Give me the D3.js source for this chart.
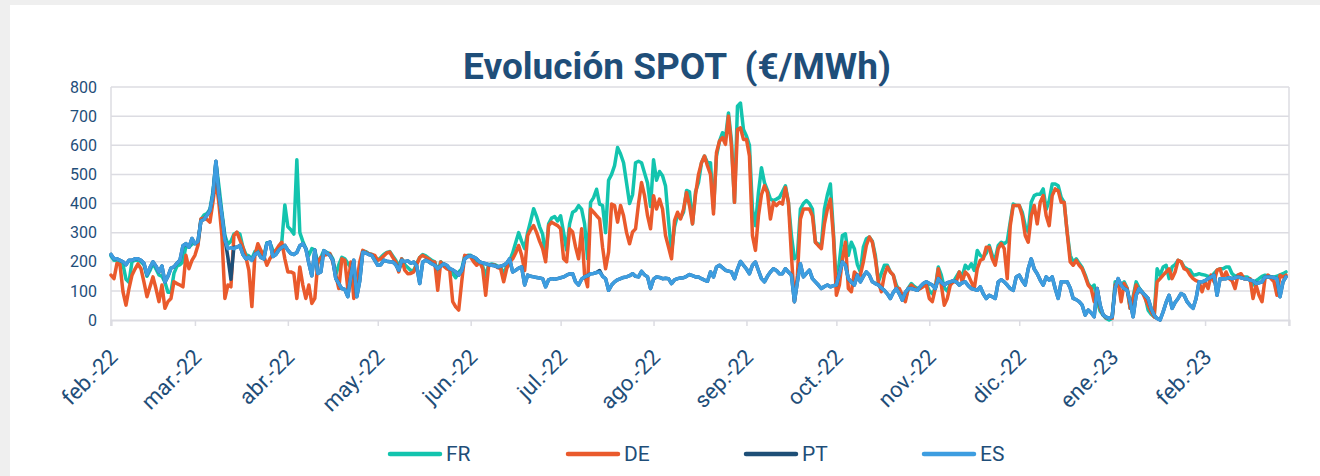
<!DOCTYPE html>
<html>
<head>
<meta charset="utf-8">
<script src="https://cdnjs.cloudflare.com/ajax/libs/d3/7.8.5/d3.min.js"></script>
<style>
  html, body { margin: 0; padding: 0; background: #efefef; }
  svg { display: block; font-family: Roboto, "Noto Sans", sans-serif; }
</style>
</head>
<body>
<svg id="chart" width="1320" height="476"></svg>
<script>
// daily spot prices, 1 feb 2022 .. 28 feb 2023 (€/MWh)
const startDate = new Date(2022, 1, 1);
const endDate = new Date(2023, 2, 1);

const monthLabels = ["feb.-22", "mar.-22", "abr.-22", "may.-22", "jun.-22", "jul.-22", "ago.-22",
    "sep.-22", "oct.-22", "nov.-22", "dic.-22", "ene.-23", "feb.-23"];
const yTicks = [0, 100, 200, 300, 400, 500, 600, 700, 800];

const seriesNames = ["FR", "DE", "PT", "ES"];
const seriesColours = ["#13c4ae", "#ea5a2c", "#1e4f77", "#3d9de0"];

const fr = [
    220,205,205,200,190,140,130,200,205,205,200,190,150,170,195,175,155,150,130,95,95,160,185,190,200,255,250,260,
    265,260,345,360,365,380,440,540,460,370,290,260,270,295,300,295,250,225,220,210,235,240,230,220,265,265,240,230,245,270,395,
    320,310,295,550,300,270,245,222,245,240,195,215,238,232,228,210,155,190,215,210,195,180,150,105,150,238,235,228,225,215,
    205,215,225,232,235,220,205,185,210,190,180,170,170,195,215,225,220,212,205,200,165,200,190,180,175,160,145,165,175,220,222,
    222,210,200,199,185,150,190,192,190,185,180,159,185,205,230,265,300,270,245,300,340,382,355,320,295,215,330,350,355,340,
    358,300,240,330,370,376,393,381,330,210,404,420,449,398,393,300,480,500,530,592,570,540,470,400,430,540,545,540,505,470,390,
    550,480,510,495,460,340,233,320,360,350,370,445,440,330,440,472,540,563,540,540,381,563,614,643,626,711,614,404,734,745,654,
    632,600,381,324,438,523,472,445,415,410,415,421,440,461,404,290,210,222,381,400,410,400,381,267,260,260,381,430,467,302,
    120,200,290,296,222,267,245,190,165,250,279,285,270,222,131,160,188,188,165,154,120,100,85,70,110,125,115,108,112,118,125,
    100,90,110,182,154,110,100,125,131,148,165,150,188,176,193,170,239,222,215,230,256,222,210,256,267,262,270,336,398,393,
    393,370,324,302,404,427,432,432,450,380,410,467,467,461,421,404,300,222,199,210,195,180,155,125,110,120,63,30,17,5,0,
    5,131,125,120,131,110,40,80,131,110,97,80,34,20,11,176,154,182,188,142,182,190,205,200,182,175,171,154,155,159,156,
    154,150,148,160,171,176,176,182,182,159,150,154,150,148,148,140,120,135,142,150,154,152,148,148,150,155,159,165
];

const de = [
    154,142,195,190,97,51,108,154,175,193,176,130,80,114,148,108,63,120,40,63,74,131,125,120,114,222,176,205,
    222,256,347,350,345,336,404,484,400,290,74,120,114,290,302,275,250,216,170,46,222,262,239,220,188,210,225,239,255,267,210,
    165,165,160,74,182,120,74,120,57,74,199,215,222,225,228,200,154,108,210,205,108,199,74,131,200,239,232,228,225,222,
    205,210,220,230,233,215,199,165,210,171,159,160,165,190,215,222,215,210,199,199,102,199,185,176,171,63,45,34,131,222,220,
    216,200,188,199,176,85,188,190,188,180,176,131,176,199,210,230,256,222,170,290,310,324,300,270,245,200,324,336,330,324,
    313,210,200,313,302,250,210,313,154,114,381,370,358,347,250,176,233,398,393,336,393,358,300,262,302,313,400,472,427,358,313,
    427,381,415,381,290,250,210,341,370,347,380,438,393,330,430,500,540,563,529,500,364,575,614,626,603,700,597,404,654,660,620,
    620,563,290,239,358,430,461,438,347,404,393,404,398,455,404,222,63,154,347,381,381,381,358,267,255,245,330,381,415,290,
    85,120,210,267,108,97,165,154,154,200,256,285,267,210,131,97,154,182,165,154,108,108,85,63,108,120,110,102,108,115,120,
    74,63,108,176,120,51,74,120,131,131,165,131,165,154,131,108,176,205,210,250,250,210,188,245,262,245,142,324,393,393,
    393,358,290,267,358,393,330,404,427,358,324,427,450,444,404,404,300,200,188,205,188,176,150,120,108,63,108,40,17,8,6,
    6,120,131,63,125,108,40,74,120,97,97,74,50,28,11,131,142,154,165,176,142,165,205,200,176,171,154,142,135,131,97,
    131,108,154,131,171,176,142,165,142,135,108,154,159,142,142,142,74,120,85,63,142,154,142,131,85,154,148,154
];

const pt = [
    225,210,210,205,200,190,205,205,210,210,205,195,155,180,200,185,165,185,130,150,178,182,195,205,255,262,250,280,
    262,270,340,345,360,375,430,545,430,360,280,215,140,250,250,256,225,210,215,205,225,232,215,210,262,268,218,225,240,250,256,
    240,228,225,232,255,262,245,195,152,240,160,165,238,230,222,205,142,125,108,105,80,150,205,80,135,233,230,225,222,205,
    188,190,205,202,200,199,190,171,205,200,203,195,199,185,125,199,205,200,193,188,176,185,193,188,176,172,165,154,170,210,218,
    220,216,210,199,196,193,190,188,186,182,185,188,195,210,165,171,178,182,120,154,150,148,146,144,142,114,138,142,140,142,
    145,148,154,158,159,131,120,140,148,152,159,160,163,170,150,142,102,120,131,138,142,146,148,152,159,150,148,167,155,148,108,
    140,148,146,142,143,142,125,138,142,144,145,150,156,152,148,148,142,137,133,165,148,182,188,180,171,168,165,142,175,201,188,
    175,159,188,199,170,142,131,150,165,176,170,159,159,176,165,154,63,131,193,148,160,171,142,131,120,108,115,120,114,118,
    120,160,199,188,142,130,120,154,131,150,165,154,131,125,120,110,102,90,74,95,108,90,68,95,108,108,105,102,115,125,131,
    125,120,108,142,130,120,128,131,135,131,120,128,131,118,108,105,102,114,90,74,85,80,74,131,138,131,120,108,102,148,
    154,135,120,176,210,175,159,137,120,148,137,148,108,74,131,131,131,110,74,70,63,51,17,34,25,11,108,51,17,10,6,
    11,108,142,120,108,102,63,11,85,108,95,85,74,40,17,5,0,28,60,85,40,60,74,91,85,63,50,40,74,131,131,
    135,142,148,154,85,142,142,142,145,142,145,148,145,142,142,137,135,125,128,131,148,148,148,145,142,80,131,148
];

const es = [
    225,210,210,205,200,190,205,205,210,210,205,195,155,180,200,185,165,185,130,150,178,182,195,205,255,262,250,280,
    262,270,340,345,360,375,430,545,430,360,275,245,248,245,250,256,225,210,215,205,225,232,215,210,262,268,218,225,240,250,256,
    240,228,225,232,255,262,245,195,152,240,160,165,238,230,222,205,142,125,108,105,80,150,205,80,135,233,230,225,222,205,
    188,190,205,202,200,199,190,171,205,200,203,195,199,185,125,199,205,200,193,188,176,185,193,188,176,172,165,154,170,210,218,
    220,216,210,199,196,193,190,188,186,182,185,188,195,210,165,171,178,182,120,154,150,148,146,144,142,114,138,142,140,142,
    145,148,154,158,159,131,120,140,148,152,159,160,163,165,150,142,102,120,131,138,142,146,148,152,159,150,148,167,155,148,108,
    140,148,146,142,143,142,125,138,142,144,145,150,156,152,148,148,142,137,133,165,148,182,188,180,171,168,165,142,175,201,188,
    175,159,188,199,170,142,131,150,165,176,170,159,159,176,165,154,63,131,193,148,160,171,142,131,120,108,115,120,114,118,
    120,160,199,188,142,130,120,154,131,150,165,154,131,125,120,110,102,90,74,95,108,90,68,95,108,108,105,102,115,125,131,
    125,120,108,142,130,120,128,131,135,131,120,128,131,118,108,105,102,114,90,74,85,80,74,131,138,131,120,108,102,148,
    154,135,120,176,210,175,159,137,120,148,137,148,108,74,131,131,131,110,74,70,63,51,17,34,25,11,108,51,17,10,6,
    11,108,142,120,108,102,63,11,85,108,95,85,74,40,17,5,0,28,60,85,40,60,74,91,85,63,50,40,74,131,131,
    135,142,148,154,85,142,142,142,145,142,145,148,145,142,142,137,135,125,128,131,148,148,148,145,142,80,131,148
];

const seriesValues = [fr, de, pt, es];

//dimensions
const width = 1320;
const height = 476;
const margin = { left: 111, right: 31, top: 87, bottom: 154 };
const textCol = "#1f4e79";
const gridCol = "#dcdce2";

const svg = d3.select("#chart");

//card
svg.append("rect")
    .attr("x", 0).attr("y", 0)
    .attr("width", width).attr("height", height)
    .attr("fill", "#efefef");
svg.append("rect")
    .attr("x", 10).attr("y", 5)
    .attr("width", width - 10).attr("height", height - 5)
    .attr("fill", "#ffffff");

//scales
const x = d3.scaleTime()
    .domain([startDate, endDate])
    .range([margin.left, width - margin.right]);
const y = d3.scaleLinear()
    .domain([0, 800])
    .range([height - margin.bottom - 2, margin.top]);

//title
svg.append("text")
    .attr("x", 677)
    .attr("y", 79)
    .attr("text-anchor", "middle")
    .attr("fill", textCol)
    .attr("xml:space", "preserve")
    .style("white-space", "pre")
    .style("font-size", "37px")
    .style("font-weight", "bold")
    .text("Evolución SPOT  (€/MWh)");

//grid
const gridG = svg.append("g").attr("class", "grid");
gridG.selectAll("line.h")
    .data(yTicks.filter(d => d > 0))
    .join("line")
    .attr("class", "h")
    .attr("x1", x.range()[0]).attr("x2", x.range()[1])
    .attr("y1", d => y(d)).attr("y2", d => y(d))
    .attr("stroke", gridCol)
    .attr("stroke-width", 1.5);
gridG.selectAll("line.v")
    .data(x.range())
    .join("line")
    .attr("class", "v")
    .attr("x1", d => d).attr("x2", d => d)
    .attr("y1", y(800)).attr("y2", y(0) + 6)
    .attr("stroke", gridCol)
    .attr("stroke-width", 1.5);

//y axis
const yAxisG = svg.append("g")
    .attr("transform", "translate(" + (margin.left - 14) + ",0)")
    .call(d3.axisLeft(y).tickValues(yTicks).tickSize(0).tickPadding(0));
yAxisG.select(".domain").remove();
yAxisG.selectAll("text")
    .attr("fill", textCol)
    .style("font-size", "16px")
    .style("font-family", "Roboto, sans-serif");

//x axis
const monthTicks = d3.timeMonth.range(startDate, d3.timeDay.offset(endDate, 1));
const xAxisG = svg.append("g")
    .attr("transform", "translate(0," + y(0) + ")")
    .attr("font-size", 22)
    .call(d3.axisBottom(x)
        .tickValues(monthTicks)
        .tickSize(6)
        .tickFormat((d, i) => monthLabels[i] || ""));
xAxisG.select(".domain")
    .attr("stroke", gridCol)
    .attr("stroke-width", 2);
xAxisG.selectAll(".tick line")
    .attr("stroke", gridCol)
    .attr("stroke-width", 1.5);
xAxisG.selectAll(".tick text")
    .attr("fill", textCol)
    .attr("font-size", 22)
    .style("font-size", "22px")
    .style("font-family", "Roboto, sans-serif")
    .attr("text-anchor", "end")
    .attr("x", 0)
    .attr("y", 0)
    .attr("dy", "0.35em")
    .attr("transform", "translate(2,33) rotate(-45)");

//lines
const line = d3.line()
    .x((d, i) => x(d3.timeDay.offset(startDate, i)))
    .y(d => y(d));

svg.append("g")
    .attr("class", "series")
    .selectAll("path")
    .data(seriesValues)
    .join("path")
    .attr("d", d => line(d))
    .attr("fill", "none")
    .attr("stroke", (d, i) => seriesColours[i])
    .attr("stroke-width", 3.5)
    .attr("stroke-linejoin", "round")
    .attr("stroke-linecap", "round");

//legend
const legendG = svg.append("g")
    .attr("class", "legend")
    .attr("transform", "translate(388,454)");
const legendItem = legendG.selectAll("g.item")
    .data(seriesNames)
    .join("g")
    .attr("class", "item")
    .attr("transform", (d, i) => "translate(" + (i * 178) + ",0)");
legendItem.append("line")
    .attr("x1", 2).attr("x2", 52)
    .attr("y1", 0).attr("y2", 0)
    .attr("stroke", (d, i) => seriesColours[i])
    .attr("stroke-width", 4.5)
    .attr("stroke-linecap", "round");
legendItem.append("text")
    .attr("x", 58)
    .attr("y", 0)
    .attr("dy", "0.35em")
    .attr("fill", textCol)
    .style("font-size", "21px")
    .text(d => d);
</script>
</body>
</html>
